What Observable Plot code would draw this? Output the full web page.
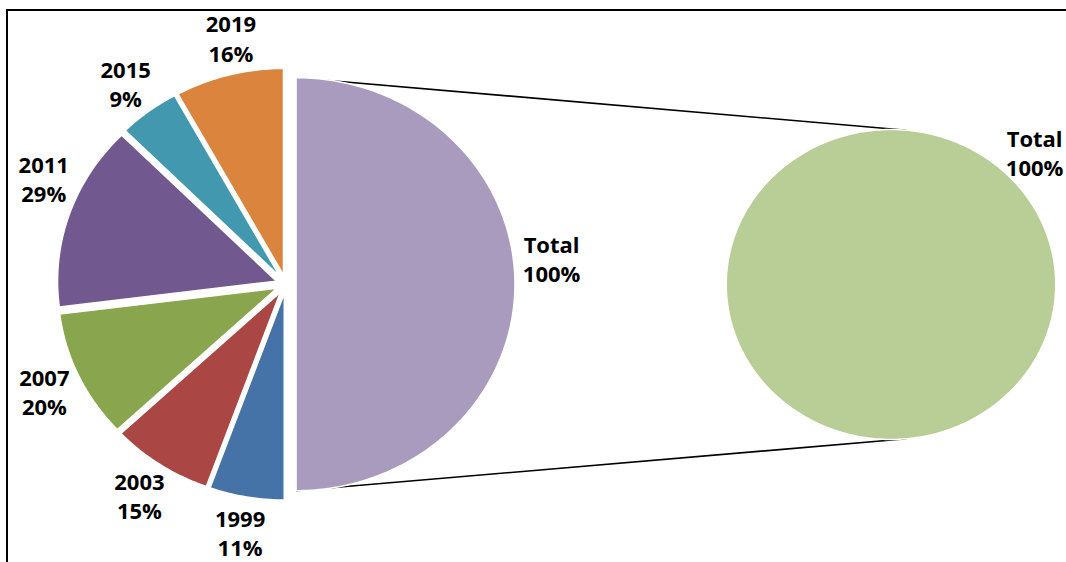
<!DOCTYPE html>
<html>
<head>
<meta charset="utf-8">
<script src="https://cdn.jsdelivr.net/npm/d3@7"></script>
<script src="https://cdn.jsdelivr.net/npm/@observablehq/plot@0.6"></script>
<style>
  html, body { margin: 0; padding: 0; background: #fff; }
  #wrap { position: relative; width: 1066px; height: 562px; overflow: hidden; }
  #frame { position: absolute; left: 6px; top: 9px; width: 1100px; height: 600px;
           border-top: 2px solid #000; border-left: 2px solid #000; box-sizing: border-box; }
  #chart { position: absolute; left: 0; top: 0; }
</style>
</head>
<body>
<div id="wrap"><div id="frame"></div><div id="chart"></div></div>
<script>
// ---- data ----
const categories = ["1999", "2003", "2007", "2011", "2015", "2019"];
const shares = [11, 15, 20, 29, 9, 16];           // % of the "Total" slice
const otherLabel = "Total";
const otherShare = 100;                             // label value of the split slice
const secondaryCategories = ["Total"];
const secondaryShares = [100];

// ---- styles ----
const primaryColors = ["#4572A7", "#AA4643", "#89A54E", "#71588F", "#4198AF", "#DB843D"];
const otherColor = "#A99BBD";
const secondaryColors = ["#B9CD96"];

// ---- layout ----
const L = {
  cx: 285.5, cy: 283.7, ry: 206.5, aspect: 1.06, explode: 9.5,
  cx2: 890.5, cy2: 284, ry2: 155, aspect2: 1.063,
  labelR: 1.22,
  nudge: {"2011": 6, "2019": 2.5, "Total": -6},
  secondaryLabelAngle: 45.6,
  connectorAngle: 5.4,
  font: "'Open Sans', 'DejaVu Sans', sans-serif"
};

function pt(cx, cy, ry, asp, aDeg) {
  const a = aDeg * Math.PI / 180;
  return [cx + ry * asp * Math.sin(a), cy - ry * Math.cos(a)];
}

// primary pie: split slice takes the share of the sum of the listed slices
const sumShares = d3.sum(shares);
const total = sumShares + sumShares;
const slices = [];
let a = 0;
const otherSpan = 360 * sumShares / total;
slices.push({key: "p:" + otherLabel, label: otherLabel, value: otherShare, a0: 0, a1: otherSpan, nudgeKey: "Total"});
a = otherSpan;
categories.forEach((c, i) => {
  const span = 360 * shares[i] / total;
  slices.push({key: "p:" + c, label: c, value: shares[i], a0: a, a1: a + span, nudgeKey: c});
  a += span;
});

const polyRows = [];
const labelRows = [];
slices.forEach(s => {
  const mid = (s.a0 + s.a1) / 2;
  const [ox, oy] = pt(0, 0, L.explode, L.aspect, mid);
  const cx = L.cx + ox, cy = L.cy + oy;
  s.cx = cx; s.cy = cy;
  polyRows.push({key: s.key, x: cx, y: cy});
  const n = Math.max(2, Math.ceil(s.a1 - s.a0));
  for (let k = 0; k <= n; k++) {
    const [x, y] = pt(cx, cy, L.ry, L.aspect, s.a0 + (s.a1 - s.a0) * k / n);
    polyRows.push({key: s.key, x, y});
  }
  const la = mid + (L.nudge[s.nudgeKey] || 0);
  const [lx, ly] = pt(L.cx, L.cy, L.ry * L.labelR, L.aspect, la);
  labelRows.push({x: lx, y: ly, text: s.label + "\n" + s.value + "%"});
});

// secondary pie
const secSum = d3.sum(secondaryShares);
let b = 0;
secondaryCategories.forEach((c, i) => {
  const span = 360 * secondaryShares[i] / secSum;
  const key = "s:" + c;
  const n = Math.ceil(span);
  if (span < 360) polyRows.push({key, x: L.cx2, y: L.cy2});
  for (let k = 0; k <= n; k++) {
    const [x, y] = pt(L.cx2, L.cy2, L.ry2, L.aspect2, b + span * k / n);
    polyRows.push({key, x, y});
  }
  const la = span >= 360 ? L.secondaryLabelAngle : b + span / 2;
  const [lx, ly] = pt(L.cx2, L.cy2, L.ry2 * L.labelR, L.aspect2, la);
  labelRows.push({x: lx, y: ly, text: c + "\n" + secondaryShares[i] + "%"});
  b += span;
});

// connector lines from split slice corners to secondary pie
const other = slices[0];
const [t1x, t1y] = pt(other.cx, other.cy, L.ry, L.aspect, other.a0);
const [b1x, b1y] = pt(other.cx, other.cy, L.ry, L.aspect, other.a1);
const [t2x, t2y] = pt(L.cx2, L.cy2, L.ry2, L.aspect2, L.connectorAngle);
const [b2x, b2y] = pt(L.cx2, L.cy2, L.ry2, L.aspect2, 180 - L.connectorAngle);
const links = [
  {x1: t1x, y1: t1y, x2: t2x, y2: t2y},
  {x1: b1x, y1: b1y, x2: b2x, y2: b2y}
];

const colorDomain = ["p:" + otherLabel, ...categories.map(c => "p:" + c), ...secondaryCategories.map(c => "s:" + c)];
const colorRange = [otherColor, ...primaryColors, ...secondaryColors];

const chart = Plot.plot({
  width: 1066,
  height: 562,
  margin: 0,
  x: {domain: [0, 1066], range: [0, 1066], axis: null},
  y: {domain: [0, 562], range: [0, 562], axis: null},
  color: {domain: colorDomain, range: colorRange},
  style: {background: "transparent", overflow: "visible"},
  marks: [
    Plot.link(links, {x1: "x1", y1: "y1", x2: "x2", y2: "y2", stroke: "#000", strokeWidth: 1.6}),
    Plot.line(polyRows, {x: "x", y: "y", z: "key", fill: "key", stroke: "#fff", strokeWidth: 1.5, curve: "linear-closed"}),
    Plot.text(labelRows, {x: "x", y: "y", text: "text", fontSize: 22, fontWeight: "bold",
      lineHeight: 1.32, fill: "#000", fontFamily: L.font})
  ]
});
document.getElementById("chart").appendChild(chart);
</script>
</body>
</html>
